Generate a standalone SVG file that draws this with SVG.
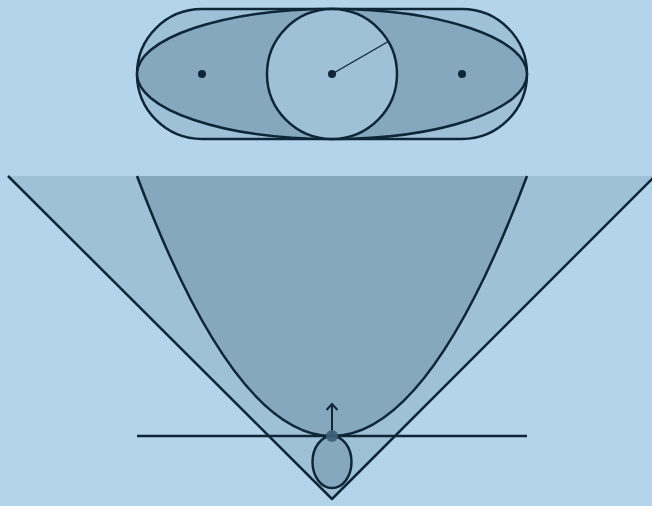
<svg xmlns="http://www.w3.org/2000/svg" width="652" height="506" viewBox="0 0 652 506">
<style>
.ln{stroke:#0e2638;stroke-width:2.5;fill:none;stroke-linejoin:round}
.lt{fill:#9fc1d7}
.dk{fill:#85a8be}
.dot{fill:#0e2638}
</style>
<defs>
<marker id="ah" markerWidth="12" markerHeight="12" refX="10" refY="6" orient="auto" markerUnits="userSpaceOnUse" viewBox="0 0 12 12">
<path d="M4,0.5 L10,6 L4,11.5" fill="none" stroke="#0e2638" stroke-width="2"/>
</marker>
</defs>
<rect width="652" height="506" fill="#b3d4ea"/>
<g id="stadium">
<rect x="137" y="9" width="390" height="130" rx="65" ry="65" class="lt"/>
<rect x="137" y="9" width="390" height="130" rx="65" ry="65" class="ln"/>
</g>
<g id="ellipse">
<ellipse cx="332" cy="74" rx="195" ry="65" class="dk"/>
<ellipse cx="332" cy="74" rx="195" ry="65" class="ln"/>
<circle cx="202" cy="74" r="4" class="dot"/>
<circle cx="462" cy="74" r="4" class="dot"/>
</g>
<g id="circle">
<circle cx="332" cy="74" r="65" class="lt"/>
<circle cx="332" cy="74" r="65" class="ln"/>
<line x1="332" y1="74" x2="388.3" y2="41.5" stroke="#0e2638" stroke-width="1.3"/>
<circle cx="332" cy="74" r="4" class="dot"/>
</g>
<g id="cone">
<polygon points="8,176 655,176 332,499" class="lt"/>
<polyline points="8,176 332,499 655,176" class="ln"/>
</g>
<g id="parabola">
<path d="M137,176 Q332,696 527,176 Z" class="dk"/>
<path d="M137,176 Q332,696 527,176" class="ln"/>
</g>
<g id="tangent">
<line x1="137" y1="436" x2="527" y2="436" class="ln"/>
</g>
<g id="small-ellipse">
<ellipse cx="332" cy="462" rx="19.5" ry="26" class="dk"/>
<ellipse cx="332" cy="462" rx="19.5" ry="26" class="ln"/>
</g>
<g id="connectors">
<line x1="332" y1="436" x2="332" y2="404" stroke="#0e2638" stroke-width="2" marker-end="url(#ah)"/>
</g>
<g id="point">
<circle cx="332" cy="436" r="6" fill="#3e5f77" opacity="0.9"/>
</g>
</svg>
